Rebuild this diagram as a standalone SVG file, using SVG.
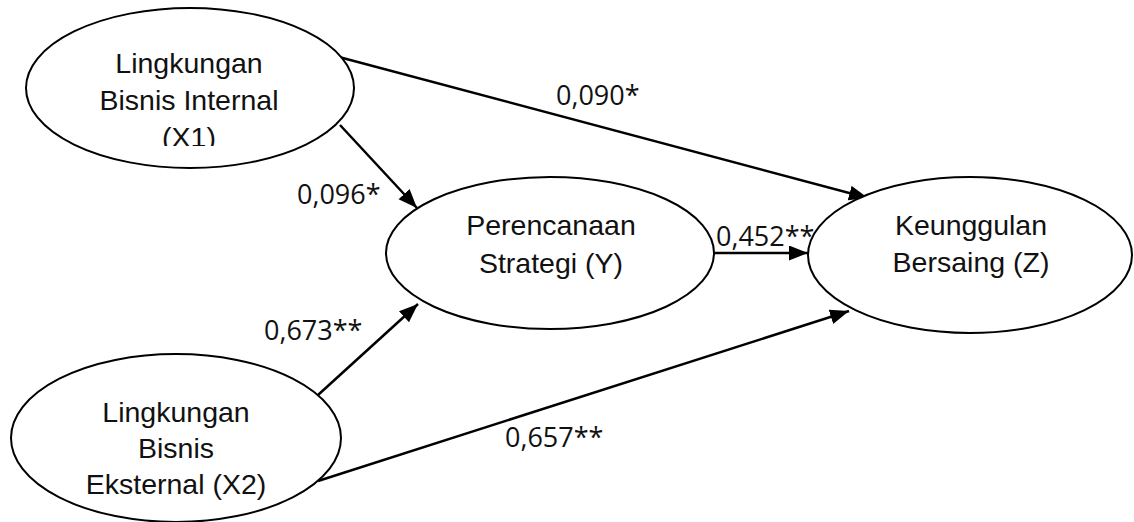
<svg xmlns="http://www.w3.org/2000/svg" width="1134" height="522" viewBox="0 0 1134 522">
<style>
.node{fill:#fff;stroke:#000;stroke-width:2}
.t{font-family:"Liberation Sans",Arial,sans-serif;font-size:28.5px;fill:#111;text-anchor:middle}
.lbl{font-family:"Open Sans","Liberation Sans",sans-serif;font-size:27px;fill:#111}
.edge{stroke:#000;stroke-width:2.5;fill:none;marker-end:url(#ah)}
</style>
<defs>
<marker id="ah" markerUnits="userSpaceOnUse" markerWidth="20" markerHeight="16" refX="19" refY="7.5" orient="auto">
<path d="M0,0 L19,7.5 L0,15 z" fill="#000"/>
</marker>
<clipPath id="c1"><rect x="0" y="0" width="400" height="146"/></clipPath>
</defs>
<rect width="1134" height="522" fill="#fff"/>
<g id="connectors">
<line class="edge" x1="339" y1="57" x2="868" y2="198"/>
<line class="edge" x1="340" y1="125" x2="417" y2="208"/>
<line class="edge" x1="714" y1="253" x2="808" y2="253"/>
<line class="edge" x1="318" y1="395" x2="418" y2="304"/>
<line class="edge" x1="318" y1="481" x2="849" y2="311"/>
</g>
<g id="X1">
<ellipse class="node" cx="190" cy="88" rx="164" ry="80"/>
<g clip-path="url(#c1)">
<text class="t" x="189" y="73">Lingkungan</text>
<text class="t" x="189" y="110">Bisnis Internal</text>
<text class="t" x="189" y="147">(X1)</text>
</g>
</g>
<g id="Y">
<ellipse class="node" cx="550" cy="253" rx="164" ry="76"/>
<text class="t" x="551" y="235">Perencanaan</text>
<text class="t" x="551" y="273">Strategi (Y)</text>
</g>
<g id="Z">
<ellipse class="node" cx="970" cy="255" rx="162" ry="78"/>
<text class="t" x="971" y="235">Keunggulan</text>
<text class="t" x="971" y="272">Bersaing (Z)</text>
</g>
<g id="X2">
<ellipse class="node" cx="176" cy="438" rx="165" ry="84"/>
<text class="t" x="176" y="422">Lingkungan</text>
<text class="t" x="176" y="458">Bisnis</text>
<text class="t" x="176" y="494">Eksternal (X2)</text>
</g>
<g id="labels">
<text class="lbl" x="556" y="105">0,090*</text>
<text class="lbl" x="297" y="204">0,096*</text>
<text class="lbl" x="716" y="246">0,452**</text>
<text class="lbl" x="264" y="340">0,673**</text>
<text class="lbl" x="505" y="447">0,657**</text>
</g>
</svg>
